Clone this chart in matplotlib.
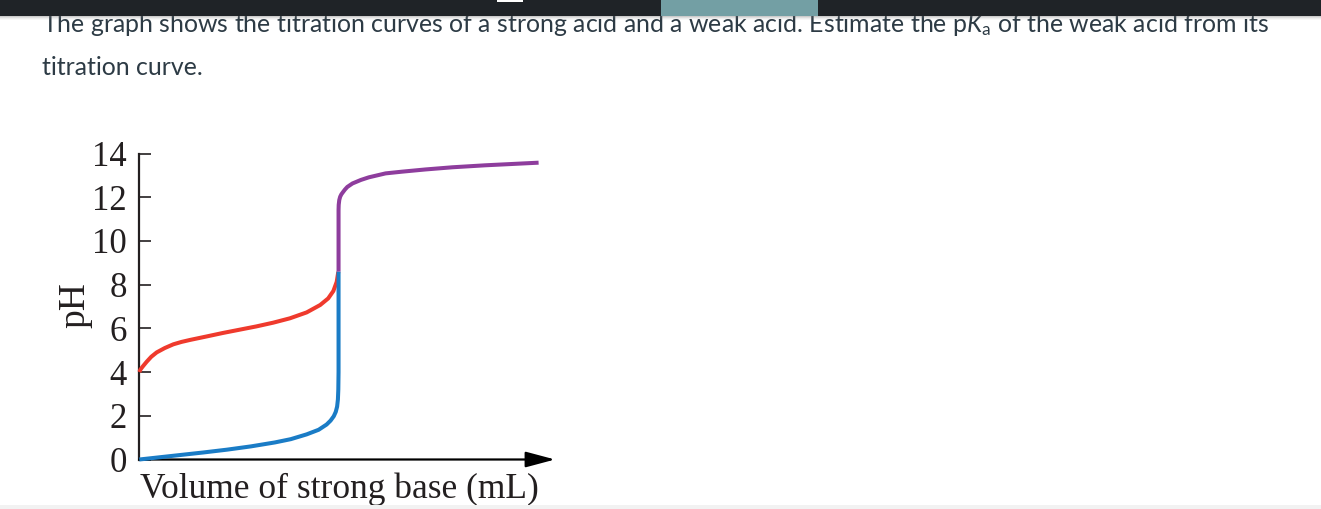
import matplotlib
matplotlib.use("Agg")
import matplotlib.pyplot as plt
from matplotlib.patches import Rectangle

# ---------------- data ----------------
strong_v = [0, 2, 5, 8, 11, 14, 17, 19, 21, 22.5, 23.5, 24.0, 24.4, 24.65, 24.82, 24.92, 24.97, 25.0, 25.0]
strong_ph = [0.0, 0.08, 0.2, 0.32, 0.45, 0.6, 0.78, 0.93, 1.15, 1.36, 1.6, 1.78, 1.98, 2.18, 2.42, 2.75, 3.2, 4.0, 8.6]

weak_v = [0, 0.15, 0.42, 0.92, 1.5, 2.18, 3.2, 4.27, 5.3, 6.36, 8.45, 10.5, 12.6, 14.7, 16.8,
          18.9, 21.0, 22.7, 23.7, 24.35, 24.77, 24.97]
weak_ph = [4.0, 4.12, 4.25, 4.47, 4.7, 4.9, 5.1, 5.27, 5.38, 5.47, 5.63, 5.79, 5.94, 6.09, 6.26,
           6.46, 6.73, 7.07, 7.37, 7.71, 8.13, 8.59]

base_v = [25.0, 25.0, 25.02, 25.09, 25.2, 25.35, 25.55, 25.8, 26.1, 26.75, 27.8, 28.8, 30.9, 33.0,
          35.9, 39.3, 43.4, 50.1]
base_ph = [8.6, 11.41, 11.65, 11.87, 12.02, 12.13, 12.23, 12.35, 12.47, 12.63, 12.79, 12.91, 13.09, 13.17,
           13.27, 13.37, 13.46, 13.58]

y_ticks = [0, 2, 4, 6, 8, 10, 12, 14]
y_ticklabels = ["0", "2", "4", "6", "8", "10", "12", "14"]
x_label = "Volume of strong base (mL)"
y_label = "pH"
question_line1 = r"The graph shows the titration curves of a strong acid and a weak acid. Estimate the p$K_{\mathrm{a}}$ of the weak acid from its"
question_line2 = "titration curve."

# ---------------- figure ----------------
W, H = 1321, 509
fig = plt.figure(figsize=(W / 100, H / 100), dpi=100)
fig.patch.set_facecolor("white")

plt.rcParams["mathtext.fontset"] = "custom"
plt.rcParams["mathtext.rm"] = "Lato"
plt.rcParams["mathtext.it"] = "Lato:italic"


def fx(px):
    return px / W


def fy(py):
    return 1 - py / H


def rect(x0, y0, x1, y1, color, z=10, alpha=1.0):
    fig.add_artist(Rectangle((fx(x0), fy(y1)), fx(x1) - fx(x0), fy(y0) - fy(y1),
                             transform=fig.transFigure, facecolor=color, edgecolor="none",
                             zorder=z, alpha=alpha))


# page header bar + shadow
rect(0, 0, W, 15.7, "#1f2327", z=20)
rect(661, 0, 818, 15.7, "#739fa4", z=21)
rect(497, 0, 523, 1.5, "#ffffff", z=22)
for i, a in enumerate([0.35, 0.22, 0.12, 0.05]):
    rect(0, 15.7 + i, W, 16.7 + i, "#6b6b6b", z=19, alpha=a)

# bottom grey band
rect(0, 505, W, H, "#f2f2f2", z=20)

# question text
txt_color = "#2d3b45"
fig.text(fx(41.7), fy(31.7), question_line1, fontfamily="Lato", fontsize=17.9,
         color=txt_color, va="baseline", ha="left", zorder=5)
fig.text(fx(41.7), fy(75), question_line2, fontfamily="Lato", fontsize=17.9,
         color=txt_color, va="baseline", ha="left", zorder=5)

# ---------------- axes ----------------
ax_left, ax_right = 139.3, 555.0
ax_top, ax_bottom = 153.5, 459.5
ax = fig.add_axes([fx(ax_left), fy(ax_bottom), fx(ax_right) - fx(ax_left), fy(ax_top) - fy(ax_bottom)])
ax.set_facecolor("none")
ax.set_xlim(0, (ax_right - ax_left) / 7.97)
ax.set_ylim(0, 14)

for s in ["top", "right", "bottom"]:
    ax.spines[s].set_visible(False)
ax.spines["left"].set_linewidth(1.6)
ax.spines["left"].set_color("#231f20")

ax.set_xticks([])
ax.set_yticks(y_ticks)
ax.set_yticklabels(y_ticklabels, fontfamily="Liberation Serif", fontsize=25, color="#231f20")
ax.tick_params(axis="y", direction="in", length=8.8, width=1.2, color="#231f20", pad=9.0)

# x axis arrow
ax.annotate("", xy=(1, 0), xytext=(0, 0), xycoords="axes fraction", textcoords="axes fraction",
            arrowprops=dict(arrowstyle="-|>,head_length=0.9,head_width=0.24", mutation_scale=20,
                            lw=1.6, color="#000000", shrinkA=0, shrinkB=0), annotation_clip=False)

lw = 2.9
ax.plot(weak_v, weak_ph, color="#ef3a2d", lw=lw, solid_capstyle="butt", solid_joinstyle="round",
        clip_on=False, zorder=3)
ax.plot(strong_v, strong_ph, color="#1a7cc6", lw=lw, solid_capstyle="butt", solid_joinstyle="round",
        clip_on=False, zorder=4)
ax.plot(base_v, base_ph, color="#8e3d9d", lw=lw, solid_capstyle="butt", solid_joinstyle="round",
        clip_on=False, zorder=5)

# axis labels
fig.text(fx(339.5), fy(498), x_label, fontfamily="Liberation Serif", fontsize=25.5,
         color="#231f20", ha="center", va="baseline", zorder=5)
fig.text(fx(75), fy(305.5), y_label, fontfamily="Liberation Serif", fontsize=27,
         color="#231f20", ha="center", va="center", rotation=90, zorder=5)

fig.savefig("out.png", dpi=100)
